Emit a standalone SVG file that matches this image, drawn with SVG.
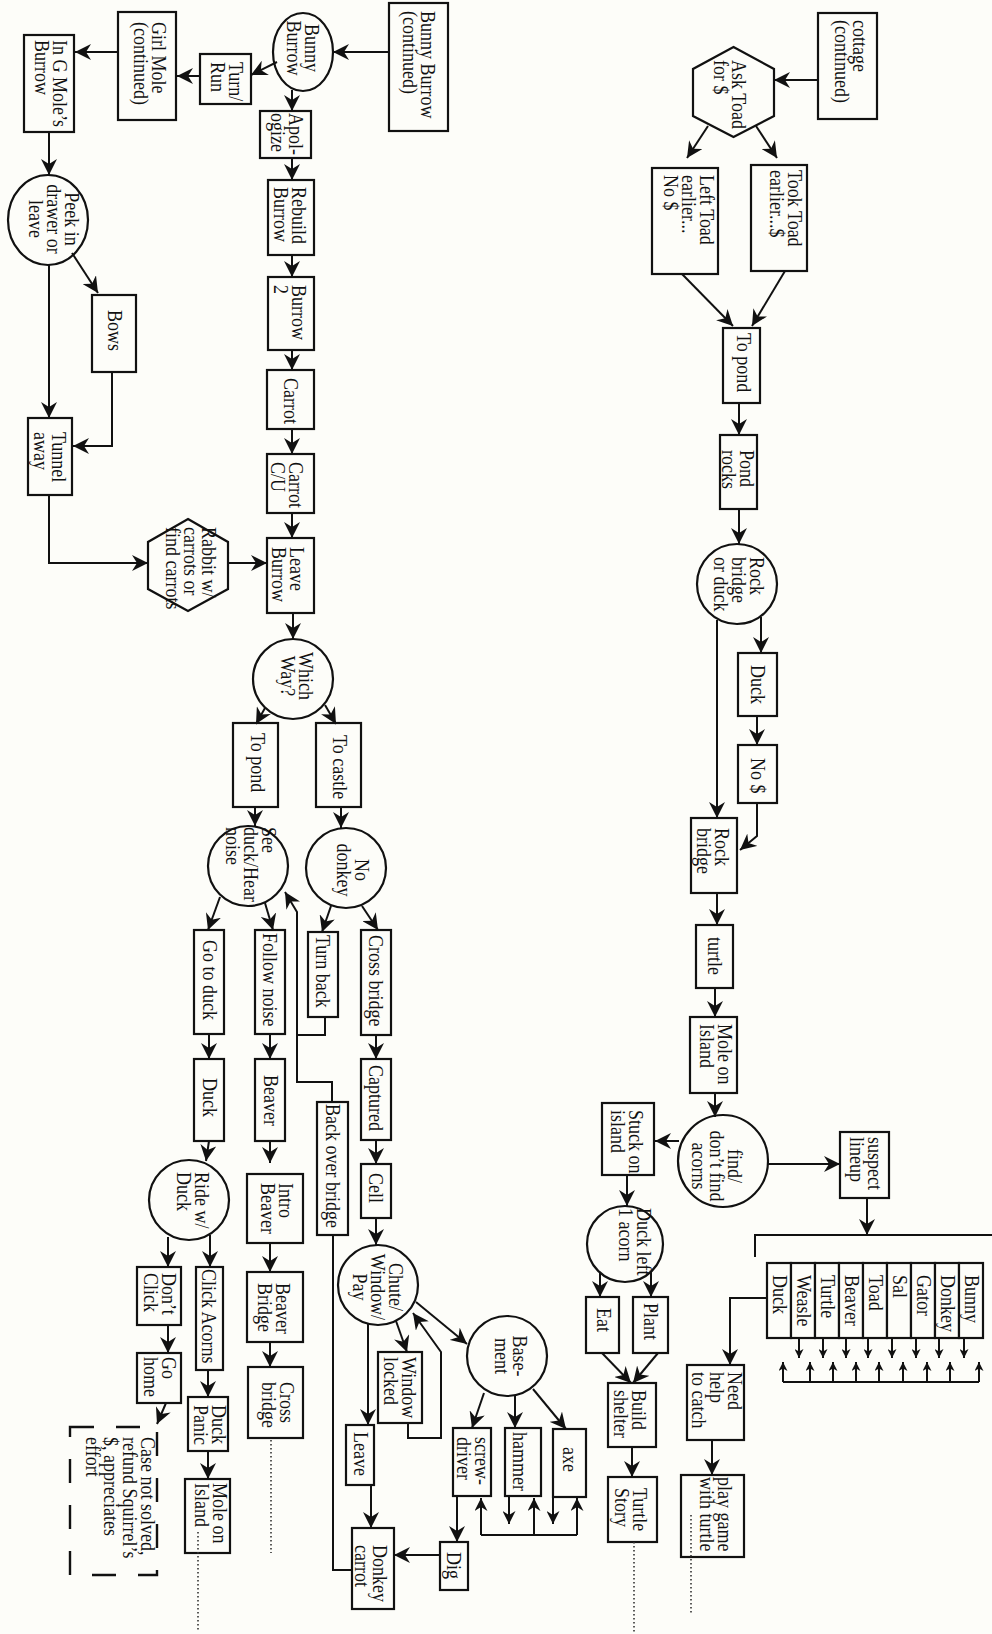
<svg xmlns="http://www.w3.org/2000/svg" width="992" height="1634" viewBox="0 0 992 1634">
<defs>
<marker id="a" markerUnits="userSpaceOnUse" markerWidth="16" markerHeight="16" refX="16" refY="8" orient="auto" viewBox="0 0 16 16"><path d="M0,0 L16,8 L0,16 L5,8 z" fill="#111"/></marker>
<marker id="m" markerUnits="userSpaceOnUse" markerWidth="13" markerHeight="13" refX="13" refY="6.5" orient="auto" viewBox="0 0 13 13"><path d="M0,0 L13,6.5 L0,13 L4,6.5 z" fill="#111"/></marker>
<marker id="s" markerUnits="userSpaceOnUse" markerWidth="9" markerHeight="9" refX="9" refY="4.5" orient="auto" viewBox="0 0 9 9"><path d="M0,0 L9,4.5 L0,9 L2.5,4.5 z" fill="#111"/></marker>
<style>
.n{fill:#fdfdf9;stroke:#111;stroke-width:2.2}
.c path{fill:none;stroke:#111;stroke-width:2}
.d{fill:none;stroke:#333;stroke-width:1.6;stroke-dasharray:1.5 2.5}
.t{font-family:"Liberation Serif","Times New Roman",serif;font-size:18px;fill:#111}
.mid{text-anchor:middle}
</style>
</defs>
<rect x="0" y="0" width="992" height="1634" fill="#fdfdf9"/>

<g id="bunny-burrow-continued"><rect class="n" x="389" y="3" width="59" height="128"/><text class="t" transform="translate(421,11) rotate(90) scale(1,1.2)"><tspan x="0">Bunny Burrow</tspan><tspan x="0" dy="15.2">(continued)</tspan></text></g>
<g id="bunny-burrow"><ellipse class="n" cx="303" cy="52" rx="30" ry="39"/><text class="t mid" transform="translate(305,48) rotate(90) scale(1,1.2)"><tspan x="0">Bunny</tspan><tspan x="0" dy="15.2">Burrow</tspan></text></g>
<g id="turn-run"><rect class="n" x="200" y="54" width="51" height="50"/><text class="t" transform="translate(229,62) rotate(90) scale(1,1.2)"><tspan x="0">Turn/</tspan><tspan x="0" dy="15.2">Run</tspan></text></g>
<g id="girl-mole"><rect class="n" x="118" y="12" width="58" height="108"/><text class="t" transform="translate(152,22) rotate(90) scale(1,1.2)"><tspan x="0">Girl Mole</tspan><tspan x="0" dy="15.2">(continued)</tspan></text></g>
<g id="in-g-mole"><rect class="n" x="24" y="35" width="50" height="97"/><text class="t" transform="translate(53,40) rotate(90) scale(1,1.2)"><tspan x="0">In G Mole’s</tspan><tspan x="0" dy="15.2">Burrow</tspan></text></g>
<g id="apologize"><rect class="n" x="260" y="111" width="51" height="47"/><text class="t" transform="translate(289,113) rotate(90) scale(1,1.2)"><tspan x="0">Apol-</tspan><tspan x="0" dy="15.2">ogize</tspan></text></g>
<g id="rebuild"><rect class="n" x="268" y="180" width="46" height="75"/><text class="t" transform="translate(292,187) rotate(90) scale(1,1.2)"><tspan x="0">Rebuild</tspan><tspan x="0" dy="15.2">Burrow</tspan></text></g>
<g id="burrow2"><rect class="n" x="268" y="277" width="46" height="73"/><text class="t" transform="translate(292,285) rotate(90) scale(1,1.2)"><tspan x="0">Burrow</tspan><tspan x="0" dy="15.2">2</tspan></text></g>
<g id="carrot"><rect class="n" x="267" y="370" width="47" height="59"/><text class="t" transform="translate(284,378) rotate(90) scale(1,1.2)">Carrot</text></g>
<g id="carrot-cu"><rect class="n" x="267" y="454" width="47" height="59"/><text class="t" transform="translate(289,462) rotate(90) scale(1,1.2)"><tspan x="0">Carrot</tspan><tspan x="0" dy="15.2">C/U</tspan></text></g>
<g id="leave-burrow"><rect class="n" x="267" y="538" width="47" height="75"/><text class="t" transform="translate(290,547) rotate(90) scale(1,1.2)"><tspan x="0">Leave</tspan><tspan x="0" dy="15.2">Burrow</tspan></text></g>
<g id="peek"><ellipse class="n" cx="48" cy="220" rx="40" ry="45"/><text class="t mid" transform="translate(65,219) rotate(90) scale(1,1.2)"><tspan x="0">Peek in</tspan><tspan x="0" dy="15.2">drawer or</tspan><tspan x="0" dy="15.2">leave</tspan></text></g>
<g id="bows"><rect class="n" x="92" y="295" width="44" height="77"/><text class="t" transform="translate(108,310) rotate(90) scale(1,1.2)">Bows</text></g>
<g id="tunnel-away"><rect class="n" x="28" y="418" width="44" height="77"/><text class="t" transform="translate(52,432) rotate(90) scale(1,1.2)"><tspan x="0">Tunnel</tspan><tspan x="0" dy="15.2">away</tspan></text></g>
<g id="rabbit"><polygon class="n" points="188,519 228,542 228,589 188,611 148,589 148,542"/><text class="t" transform="translate(202,527) rotate(90) scale(1,1.2)"><tspan x="0">Rabbit w/</tspan><tspan x="0" dy="15.2">carrots or</tspan><tspan x="0" dy="15.2">find carrots</tspan></text></g>
<g id="which-way"><circle class="n" cx="293" cy="679" r="40"/><text class="t mid" transform="translate(299,676) rotate(90) scale(1,1.2)"><tspan x="0">Which</tspan><tspan x="0" dy="15.2">Way?</tspan></text></g>
<g id="to-pond"><rect class="n" x="233" y="723" width="45" height="84"/><text class="t" transform="translate(251,733) rotate(90) scale(1,1.2)">To pond</text></g>
<g id="to-castle"><rect class="n" x="316" y="723" width="45" height="84"/><text class="t" transform="translate(333,735) rotate(90) scale(1,1.2)">To castle</text></g>
<g id="see-duck"><circle class="n" cx="248" cy="866" r="40"/><text class="t" transform="translate(262,827) rotate(90) scale(1,1.2)"><tspan x="0">See</tspan><tspan x="0" dy="15.2">duck/Hear</tspan><tspan x="0" dy="15.2">noise</tspan></text></g>
<g id="no-donkey"><circle class="n" cx="346" cy="868" r="40"/><text class="t mid" transform="translate(355,870) rotate(90) scale(1,1.2)"><tspan x="0">No</tspan><tspan x="0" dy="15.2">donkey</tspan></text></g>
<g id="turn-back"><rect class="n" x="308" y="932" width="30" height="85"/><text class="t" transform="translate(316,935) rotate(90) scale(1,1.2)">Turn back</text></g>
<g id="cross-bridge"><rect class="n" x="361" y="930" width="30" height="105"/><text class="t" transform="translate(369,935) rotate(90) scale(1,1.2)">Cross bridge</text></g>
<g id="go-to-duck"><rect class="n" x="194" y="930" width="30" height="104"/><text class="t" transform="translate(203,940) rotate(90) scale(1,1.2)">Go to duck</text></g>
<g id="follow-noise"><rect class="n" x="255" y="930" width="30" height="104"/><text class="t" transform="translate(263,933) rotate(90) scale(1,1.2)">Follow noise</text></g>
<g id="captured"><rect class="n" x="361" y="1059" width="30" height="81"/><text class="t" transform="translate(369,1065) rotate(90) scale(1,1.2)">Captured</text></g>
<g id="cell"><rect class="n" x="361" y="1164" width="30" height="54"/><text class="t" transform="translate(369,1173) rotate(90) scale(1,1.2)">Cell</text></g>
<g id="duck-a"><rect class="n" x="194" y="1059" width="30" height="82"/><text class="t" transform="translate(203,1078) rotate(90) scale(1,1.2)">Duck</text></g>
<g id="beaver-a"><rect class="n" x="255" y="1059" width="30" height="82"/><text class="t" transform="translate(264,1075) rotate(90) scale(1,1.2)">Beaver</text></g>
<g id="back-over-bridge"><rect class="n" x="317" y="1102" width="31" height="133"/><text class="t" transform="translate(326,1104) rotate(90) scale(1,1.2)">Back over bridge</text></g>
<g id="ride-duck"><circle class="n" cx="189" cy="1200" r="40"/><text class="t" transform="translate(195,1172) rotate(90) scale(1,1.2)"><tspan x="0">Ride w/</tspan><tspan x="0" dy="15.2">Duck</tspan></text></g>
<g id="intro-beaver"><rect class="n" x="247" y="1174" width="56" height="69"/><text class="t" transform="translate(279,1183) rotate(90) scale(1,1.2)"><tspan x="0">Intro</tspan><tspan x="0" dy="15.2">Beaver</tspan></text></g>
<g id="beaver-bridge"><rect class="n" x="247" y="1272" width="56" height="70"/><text class="t" transform="translate(276,1283) rotate(90) scale(1,1.2)"><tspan x="0">Beaver</tspan><tspan x="0" dy="15.2">Bridge</tspan></text></g>
<g id="cross-bridge-b"><rect class="n" x="248" y="1367" width="55" height="71"/><text class="t" transform="translate(280,1382) rotate(90) scale(1,1.2)"><tspan x="0">Cross</tspan><tspan x="0" dy="15.2">bridge</tspan></text></g>
<g id="dont-click"><rect class="n" x="137" y="1267" width="44" height="58"/><text class="t" transform="translate(162,1273) rotate(90) scale(1,1.2)"><tspan x="0">Don’t</tspan><tspan x="0" dy="15.2">Click</tspan></text></g>
<g id="click-acorns"><rect class="n" x="196" y="1267" width="27" height="103"/><text class="t" transform="translate(202,1269) rotate(90) scale(1,1.2)">Click Acorns</text></g>
<g id="go-home"><rect class="n" x="137" y="1353" width="44" height="50"/><text class="t" transform="translate(162,1357) rotate(90) scale(1,1.2)"><tspan x="0">Go</tspan><tspan x="0" dy="15.2">home</tspan></text></g>
<g id="duck-panic"><rect class="n" x="188" y="1397" width="40" height="54"/><text class="t" transform="translate(212,1405) rotate(90) scale(1,1.2)"><tspan x="0">Duck</tspan><tspan x="0" dy="15.2">Panic</tspan></text></g>
<g id="mole-on-island-b"><rect class="n" x="185" y="1479" width="45" height="74"/><text class="t" transform="translate(213,1483) rotate(90) scale(1,1.2)"><tspan x="0">Mole on</tspan><tspan x="0" dy="15.2">Island</tspan></text></g>
<g id="case-not-solved"><rect x="70" y="1427" width="87" height="148" fill="none" stroke="#111" stroke-width="2.4" stroke-dasharray="24 22"/><text class="t" transform="translate(141,1437) rotate(90) scale(1,1.2)"><tspan x="0">Case not solved,</tspan><tspan x="0" dy="15.4">refund Squirrel’s</tspan><tspan x="0" dy="15.4">$, appreciates</tspan><tspan x="0" dy="15.4">effort</tspan></text></g>
<g id="chute"><circle class="n" cx="378" cy="1285" r="40"/><text class="t mid" transform="translate(389,1287) rotate(90) scale(1,1.2)"><tspan x="0">Chute/</tspan><tspan x="0" dy="15.2">Window/</tspan><tspan x="0" dy="15.2">Pay</tspan></text></g>
<g id="window-locked"><rect class="n" x="378" y="1352" width="44" height="71"/><text class="t" transform="translate(402,1357) rotate(90) scale(1,1.2)"><tspan x="0">Window</tspan><tspan x="0" dy="15.2">locked</tspan></text></g>
<g id="leave"><rect class="n" x="346" y="1425" width="28" height="60"/><text class="t" transform="translate(354,1432) rotate(90) scale(1,1.2)">Leave</text></g>
<g id="basement"><circle class="n" cx="507" cy="1356" r="40"/><text class="t mid" transform="translate(513,1356) rotate(90) scale(1,1.2)"><tspan x="0">Base-</tspan><tspan x="0" dy="15.2">ment</tspan></text></g>
<g id="screwdriver"><rect class="n" x="453" y="1428" width="38" height="68"/><text class="t" transform="translate(475,1437) rotate(90) scale(1,1.2)"><tspan x="0">screw-</tspan><tspan x="0" dy="15.2">driver</tspan></text></g>
<g id="hammer"><rect class="n" x="505" y="1428" width="36" height="68"/><text class="t" transform="translate(513,1432) rotate(90) scale(1,1.2)">hammer</text></g>
<g id="axe"><rect class="n" x="553" y="1429" width="33" height="68"/><text class="t" transform="translate(563,1447) rotate(90) scale(1,1.2)">axe</text></g>
<g id="dig"><rect class="n" x="440" y="1542" width="28" height="48"/><text class="t" transform="translate(447,1552) rotate(90) scale(1,1.2)">Dig</text></g>
<g id="donkey-carrot"><rect class="n" x="352" y="1528" width="42" height="81"/><text class="t" transform="translate(373,1545) rotate(90) scale(1,1.2)"><tspan x="0">Donkey</tspan><tspan x="0" dy="15.2">carrot</tspan></text></g>
<g id="duck-left-acorn"><circle class="n" cx="625" cy="1244" r="38"/><text class="t" transform="translate(637,1208) rotate(90) scale(1,1.2)"><tspan x="0">Duck left</tspan><tspan x="0" dy="15.2">1 acorn</tspan></text></g>
<g id="eat"><rect class="n" x="586" y="1297" width="33" height="56"/><text class="t" transform="translate(597,1308) rotate(90) scale(1,1.2)">Eat</text></g>
<g id="plant"><rect class="n" x="633" y="1297" width="35" height="56"/><text class="t" transform="translate(644,1303) rotate(90) scale(1,1.2)">Plant</text></g>
<g id="build-shelter"><rect class="n" x="608" y="1383" width="48" height="64"/><text class="t" transform="translate(632,1390) rotate(90) scale(1,1.2)"><tspan x="0">Build</tspan><tspan x="0" dy="15.2">shelter</tspan></text></g>
<g id="turtle-story"><rect class="n" x="608" y="1477" width="49" height="65"/><text class="t" transform="translate(633,1488) rotate(90) scale(1,1.2)"><tspan x="0">Turtle</tspan><tspan x="0" dy="15.2">Story</tspan></text></g>

<g id="cottage-continued"><rect class="n" x="818" y="13" width="59" height="106"/><text class="t" transform="translate(853,20) rotate(90) scale(1,1.2)"><tspan x="0">cottage</tspan><tspan x="0" dy="15.2">(continued)</tspan></text></g>
<g id="ask-toad"><polygon class="n" points="733.5,47 774,69 774,116 733.5,137 693,116 693,69"/><text class="t" transform="translate(732,60) rotate(90) scale(1,1.2)"><tspan x="0">Ask Toad</tspan><tspan x="0" dy="15.2">for $</tspan></text></g>
<g id="took-toad"><rect class="n" x="751" y="165" width="56" height="106"/><text class="t" transform="translate(788,170) rotate(90) scale(1,1.2)"><tspan x="0">Took Toad</tspan><tspan x="0" dy="15.2">earlier...$</tspan></text></g>
<g id="left-toad"><rect class="n" x="652" y="168" width="66" height="106"/><text class="t" transform="translate(700,175) rotate(90) scale(1,1.2)"><tspan x="0">Left Toad</tspan><tspan x="0" dy="15.2">earlier...</tspan><tspan x="0" dy="15.2">No $</tspan></text></g>
<g id="to-pond-b"><rect class="n" x="723" y="328" width="37" height="75"/><text class="t" transform="translate(737,333) rotate(90) scale(1,1.2)">To pond</text></g>
<g id="pond-rocks"><rect class="n" x="720" y="435" width="37" height="74"/><text class="t" transform="translate(740,450) rotate(90) scale(1,1.2)"><tspan x="0">Pond</tspan><tspan x="0" dy="15.2">rocks</tspan></text></g>
<g id="rock-bridge-or-duck"><circle class="n" cx="737" cy="584" r="40"/><text class="t" transform="translate(750,557) rotate(90) scale(1,1.2)"><tspan x="0">Rock</tspan><tspan x="0" dy="15.2">bridge</tspan><tspan x="0" dy="15.2">or duck</tspan></text></g>
<g id="duck-b"><rect class="n" x="738" y="653" width="39" height="63"/><text class="t" transform="translate(751,665) rotate(90) scale(1,1.2)">Duck</text></g>
<g id="no-money"><rect class="n" x="738" y="745" width="39" height="58"/><text class="t" transform="translate(751,758) rotate(90) scale(1,1.2)">No $</text></g>
<g id="rock-bridge"><rect class="n" x="691" y="818" width="46" height="75"/><text class="t" transform="translate(715,828) rotate(90) scale(1,1.2)"><tspan x="0">Rock</tspan><tspan x="0" dy="15.2">bridge</tspan></text></g>
<g id="turtle"><rect class="n" x="696" y="925" width="37" height="63"/><text class="t" transform="translate(708,937) rotate(90) scale(1,1.2)">turtle</text></g>
<g id="mole-on-island"><rect class="n" x="690" y="1017" width="47" height="76"/><text class="t" transform="translate(718,1024) rotate(90) scale(1,1.2)"><tspan x="0">Mole on</tspan><tspan x="0" dy="15.2">Island</tspan></text></g>
<g id="find-acorns"><ellipse class="n" cx="723" cy="1161" rx="45" ry="46"/><text class="t mid" transform="translate(728,1166) rotate(90) scale(1,1.2)"><tspan x="0">find/</tspan><tspan x="0" dy="15.2">don’t find</tspan><tspan x="0" dy="15.2">acorns</tspan></text></g>
<g id="stuck-on-island"><rect class="n" x="602" y="1103" width="52" height="72"/><text class="t" transform="translate(629,1110) rotate(90) scale(1,1.2)"><tspan x="0">Stuck on</tspan><tspan x="0" dy="15.2">island</tspan></text></g>
<g id="suspect-lineup"><rect class="n" x="840" y="1132" width="49" height="66"/><text class="t" transform="translate(868,1137) rotate(90) scale(1,1.2)"><tspan x="0">suspect</tspan><tspan x="0" dy="15.2">lineup</tspan></text></g>
<g id="lineup">
<rect class="n" x="767" y="1263" width="24" height="75"/><text class="t" transform="translate(773,1275) rotate(90) scale(1,1.2)">Duck</text>
<rect class="n" x="791" y="1263" width="24" height="75"/><text class="t" transform="translate(797,1275) rotate(90) scale(1,1.2)">Weasle</text>
<rect class="n" x="815" y="1263" width="24" height="75"/><text class="t" transform="translate(821,1275) rotate(90) scale(1,1.2)">Turtle</text>
<rect class="n" x="839" y="1263" width="24" height="75"/><text class="t" transform="translate(845,1275) rotate(90) scale(1,1.2)">Beaver</text>
<rect class="n" x="863" y="1263" width="24" height="75"/><text class="t" transform="translate(869,1275) rotate(90) scale(1,1.2)">Toad</text>
<rect class="n" x="887" y="1263" width="24" height="75"/><text class="t" transform="translate(893,1275) rotate(90) scale(1,1.2)">Sal</text>
<rect class="n" x="911" y="1263" width="24" height="75"/><text class="t" transform="translate(917,1275) rotate(90) scale(1,1.2)">Gator</text>
<rect class="n" x="935" y="1263" width="24" height="75"/><text class="t" transform="translate(941,1275) rotate(90) scale(1,1.2)">Donkey</text>
<rect class="n" x="959" y="1263" width="24" height="75"/><text class="t" transform="translate(965,1275) rotate(90) scale(1,1.2)">Bunny</text>
</g>
<g id="need-help"><rect class="n" x="687" y="1365" width="57" height="75"/><text class="t" transform="translate(728,1372) rotate(90) scale(1,1.2)"><tspan x="0">Need</tspan><tspan x="0" dy="15.2">help</tspan><tspan x="0" dy="15.2">to catch</tspan></text></g>
<g id="play-game"><rect class="n" x="681" y="1475" width="63" height="82"/><text class="t" transform="translate(718,1477) rotate(90) scale(1,1.2)"><tspan x="0">play game</tspan><tspan x="0" dy="15.2">with turtle</tspan></text></g>

<g id="connectors" class="c">
<path d="M389,52 H333" marker-end="url(#a)"/>
<path d="M277,62 L251,75" marker-end="url(#a)"/>
<path d="M200,76 H177" marker-end="url(#a)"/>
<path d="M118,52 H75" marker-end="url(#a)"/>
<path d="M292,90 V111" marker-end="url(#a)"/>
<path d="M292,158 V180" marker-end="url(#a)"/>
<path d="M292,255 V277" marker-end="url(#a)"/>
<path d="M292,350 V370" marker-end="url(#a)"/>
<path d="M292,429 V454" marker-end="url(#a)"/>
<path d="M292,513 V538" marker-end="url(#a)"/>
<path d="M49,132 V175" marker-end="url(#a)"/>
<path d="M72,253 L98,293" marker-end="url(#a)"/>
<path d="M49,265 V418" marker-end="url(#a)"/>
<path d="M112,372 V446 H73" marker-end="url(#a)"/>
<path d="M49,495 V563 H148" marker-end="url(#a)"/>
<path d="M228,563 H267" marker-end="url(#a)"/>
<path d="M293,613 V639" marker-end="url(#a)"/>
<path d="M265,708 L256,724" marker-end="url(#a)"/>
<path d="M325,705 L336,724" marker-end="url(#a)"/>
<path d="M255,807 V826" marker-end="url(#a)"/>
<path d="M341,807 V828" marker-end="url(#a)"/>
<path d="M220,897 L208,930" marker-end="url(#a)"/>
<path d="M265,903 L273,930" marker-end="url(#a)"/>
<path d="M331,906 L322,932" marker-end="url(#a)"/>
<path d="M362,906 L378,930" marker-end="url(#a)"/>
<path d="M332,1102 V1082 H297 V912 L285,892" marker-end="url(#a)"/>
<path d="M325,1017 V1035 H297"/>
<path d="M209,1034 V1059" marker-end="url(#a)"/>
<path d="M270,1034 V1059" marker-end="url(#a)"/>
<path d="M209,1141 L206,1161" marker-end="url(#a)"/>
<path d="M270,1141 V1163" marker-end="url(#a)"/>
<path d="M270,1243 V1272" marker-end="url(#a)"/>
<path d="M270,1342 V1367" marker-end="url(#a)"/>
<path d="M376,1035 V1059" marker-end="url(#a)"/>
<path d="M376,1140 V1164" marker-end="url(#a)"/>
<path d="M376,1218 V1245" marker-end="url(#a)"/>
<path d="M168,1237 V1267" marker-end="url(#a)"/>
<path d="M210,1235 V1267" marker-end="url(#a)"/>
<path d="M168,1325 V1353" marker-end="url(#a)"/>
<path d="M208,1370 V1397" marker-end="url(#a)"/>
<path d="M166,1403 L157,1424" marker-end="url(#a)"/>
<path d="M208,1451 V1479" marker-end="url(#a)"/>
<path d="M368,1324 V1425" marker-end="url(#a)"/>
<path d="M396,1321 L407,1352" marker-end="url(#a)"/>
<path d="M408,1423 V1438 H441 V1352 L413,1313" marker-end="url(#a)"/>
<path d="M416,1302 L467,1344" marker-end="url(#a)"/>
<path d="M484,1393 L472,1428" marker-end="url(#a)"/>
<path d="M515,1396 V1428" marker-end="url(#a)"/>
<path d="M533,1389 L566,1429" marker-end="url(#a)"/>
<path d="M371,1485 V1528" marker-end="url(#a)"/>
<path d="M457,1496 V1542" marker-end="url(#a)"/>
<path d="M440,1555 H394" marker-end="url(#a)"/>
<path d="M333,1235 V1570 H352"/>
<path d="M481,1535 H577"/>
<path d="M481,1535 V1498" marker-end="url(#m)"/>
<path d="M534,1535 V1498" marker-end="url(#m)"/>
<path d="M577,1535 V1498" marker-end="url(#m)"/>
<path d="M509,1496 V1524" marker-end="url(#m)"/>
<path d="M553,1497 V1524" marker-end="url(#m)"/>
<path d="M818,80 H774" marker-end="url(#a)"/>
<path d="M708,126 L687,158" marker-end="url(#a)"/>
<path d="M756,126 L777,158" marker-end="url(#a)"/>
<path d="M682,274 L733,326" marker-end="url(#a)"/>
<path d="M785,271 L752,326" marker-end="url(#a)"/>
<path d="M739,403 V435" marker-end="url(#a)"/>
<path d="M739,509 V544" marker-end="url(#a)"/>
<path d="M761,617 V653" marker-end="url(#a)"/>
<path d="M757,716 V745" marker-end="url(#a)"/>
<path d="M757,803 V836 L740,850" marker-end="url(#a)"/>
<path d="M717,620 V818" marker-end="url(#a)"/>
<path d="M717,893 V925" marker-end="url(#a)"/>
<path d="M715,988 V1017" marker-end="url(#a)"/>
<path d="M715,1093 V1117" marker-end="url(#a)"/>
<path d="M768,1164 H840" marker-end="url(#a)"/>
<path d="M679,1141 H655" marker-end="url(#a)"/>
<path d="M627,1175 V1206" marker-end="url(#a)"/>
<path d="M600,1273 V1297" marker-end="url(#a)"/>
<path d="M651,1272 V1297" marker-end="url(#a)"/>
<path d="M602,1353 L631,1383" marker-end="url(#a)"/>
<path d="M658,1353 L633,1383" marker-end="url(#a)"/>
<path d="M632,1447 V1477" marker-end="url(#a)"/>
<path d="M867,1198 V1235" marker-end="url(#a)"/>
<path d="M755,1257 V1235 H992"/>
<path d="M799,1338 V1358" marker-end="url(#s)"/>
<path d="M823,1338 V1358" marker-end="url(#s)"/>
<path d="M846,1338 V1358" marker-end="url(#s)"/>
<path d="M868,1338 V1358" marker-end="url(#s)"/>
<path d="M892,1338 V1358" marker-end="url(#s)"/>
<path d="M916,1338 V1358" marker-end="url(#s)"/>
<path d="M939,1338 V1358" marker-end="url(#s)"/>
<path d="M964,1338 V1358" marker-end="url(#s)"/>
<path d="M783,1382 H979"/>
<path d="M783,1382 V1362" marker-end="url(#s)"/>
<path d="M810,1382 V1362" marker-end="url(#s)"/>
<path d="M833,1382 V1362" marker-end="url(#s)"/>
<path d="M856,1382 V1362" marker-end="url(#s)"/>
<path d="M879,1382 V1362" marker-end="url(#s)"/>
<path d="M903,1382 V1362" marker-end="url(#s)"/>
<path d="M927,1382 V1362" marker-end="url(#s)"/>
<path d="M950,1382 V1362" marker-end="url(#s)"/>
<path d="M979,1382 V1362" marker-end="url(#s)"/>
<path d="M767,1298 H730 V1365" marker-end="url(#a)"/>
<path d="M712,1440 V1475" marker-end="url(#a)"/>
</g>
<g id="continuations">
<path class="d" d="M271,1440 V1553"/>
<path class="d" d="M198,1532 V1632"/>
<path class="d" d="M634,1542 V1634"/>
<path class="d" d="M691,1515 V1613"/>
</g>
</svg>
